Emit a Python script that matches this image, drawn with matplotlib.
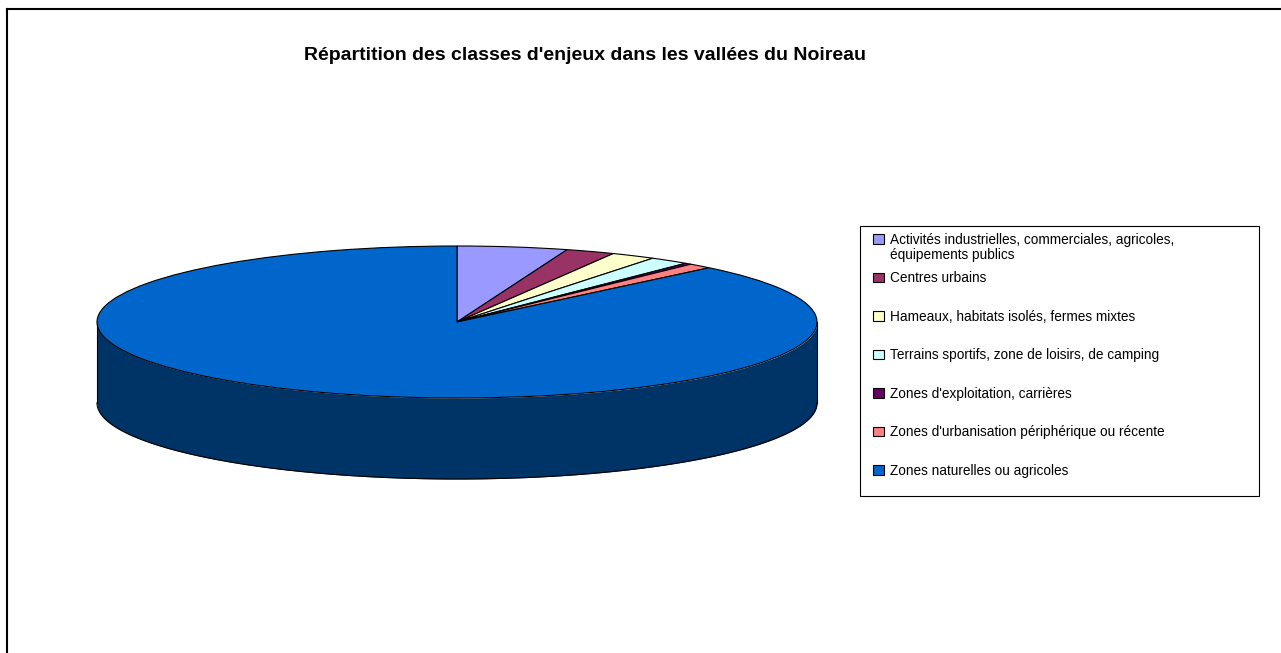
import numpy as np
import matplotlib
matplotlib.use("Agg")
import matplotlib.pyplot as plt
from matplotlib.lines import Line2D
from matplotlib.patches import Rectangle

plt.rcParams['font.family'] = ['Liberation Sans', 'DejaVu Sans']

W = 1281
H = 653

"""DATA"""
labels = ["Activités industrielles, commerciales, agricoles,",
          "Centres urbains",
          "Hameaux, habitats isolés, fermes mixtes",
          "Terrains sportifs, zone de loisirs, de camping",
          "Zones d'exploitation, carrières",
          "Zones d'urbanisation périphérique ou récente",
          "Zones naturelles ou agricoles"]
label_wrap = "équipements publics"  # second line of the first entry
values = [4.95, 2.2, 2.0, 1.8, 0.3, 1.1, 87.65]
colors = ["#9999FF", "#993366", "#FFFFCC", "#CCFFFF", "#660066", "#FF8080", "#0066CC"]
side_color = "#003366"
title = "Répartition des classes d'enjeux dans les vallées du Noireau"

"""LAYOUT (pixels)"""
pie_left = 97
pie_right = 817
pie_top = 246
pie_mid = 322
depth = 81
ry = pie_mid - pie_top

fig = plt.figure(figsize=(W/100, H/100), dpi=100, facecolor="white")

# outer frame, only left and top are visible
fig.add_artist(Line2D([7/W, 7/W], [0, 1-9/H], color="black", lw=1.5))
fig.add_artist(Line2D([7/W, 1], [1-9/H, 1-9/H], color="black", lw=1.5))

fig.text(584.5/W, 1-56/H, title, ha="center", va="center", fontsize=14.0,
         fontweight="bold", color="black")

# unit circle squashed by the axes limits
bottom_px = pie_mid + ry + depth
ax = fig.add_axes([pie_left/W, 1-bottom_px/H, (pie_right-pie_left)/W, (bottom_px-pie_top)/H])

# side wall of the big slice
t = np.linspace(np.pi, 2*np.pi, 300)
xs = np.cos(t)
ys = np.sin(t)
ax.fill_between(xs, ys, ys-depth/ry, color=side_color, zorder=1, lw=0)
ax.plot(xs, ys-depth/ry, color="black", lw=0.8, zorder=2, clip_on=False)
ax.plot([-1, -1], [0, -depth/ry], color="black", lw=0.8, zorder=2, clip_on=False)
ax.plot([1, 1], [0, -depth/ry], color="black", lw=0.8, zorder=2, clip_on=False)

wedges, _ = ax.pie(values, colors=colors, startangle=90, counterclock=False, radius=1,
                   wedgeprops={"edgecolor": "black", "linewidth": 0.8, "zorder": 3})
ax.set_aspect("auto")
ax.set_xlim(-1, 1)
ax.set_ylim(-1-depth/ry, 1)
ax.axis("off")
for w in wedges:
    w.set_clip_on(False)

# legend box is taller than its entries so it is drawn on its own
fig.add_artist(Rectangle((860/W, 1-496/H), 399/W, 270/H, transform=fig.transFigure,
                         facecolor="white", edgecolor="black", lw=0.8))
leg = fig.legend(wedges, labels, loc="upper left",
                 bbox_to_anchor=(866/W, 1-496/H, 393/W, 270/H), mode="expand",
                 borderaxespad=0, fontsize=9.85, frameon=False,
                 labelspacing=1.79, borderpad=0.5,
                 handlelength=0.85, handleheight=0.7, handletextpad=0.4)
leg.set_zorder(5)
fig.text(890/W, 1-255.5/H, label_wrap, ha="left", va="center", fontsize=9.85,
         color="black", zorder=6)

fig.savefig("out.png", dpi=100)
